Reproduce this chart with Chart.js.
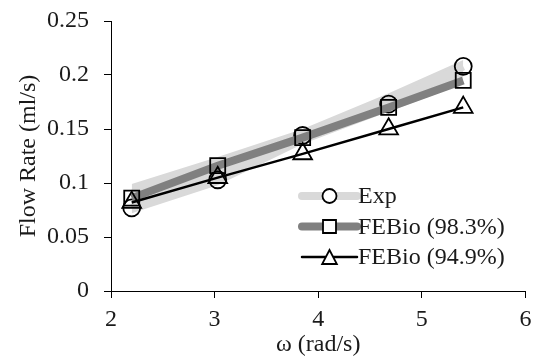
<!DOCTYPE html>
<html>
<head>
<meta charset="utf-8">
<title>Flow rate vs angular velocity</title>
<script src="https://cdn.jsdelivr.net/npm/chart.js@4/dist/chart.umd.min.js"></script>
<style>
  html, body { margin: 0; padding: 0; background: #fff; }
  #wrap { width: 538px; height: 357px; }
</style>
</head>
<body>
<div id="wrap"><canvas id="flow-chart" width="538" height="357"></canvas></div>
<script>
// Angular velocity (rad/s) and flow rates (ml/s)
const omega = [2.2, 3.03, 3.85, 4.68, 5.4];
const expFlow = [0.077, 0.103, 0.144, 0.173, 0.208];
const expUpper = [0.099, 0.124, 0.150, 0.183, 0.214];
const expLower = [0.072, 0.098, 0.136, 0.166, 0.192];
const febio983 = [0.086, 0.116, 0.142, 0.170, 0.195];
const febio949 = [0.082, 0.105, 0.127, 0.150, 0.170];

const seriesLabels = ['Exp', 'FEBio (98.3%)', 'FEBio (94.9%)'];
const yTickStep = 0.05;

const FONT = "'Liberation Serif', 'Times New Roman', serif";
const TEXT = '#1a1a1a';
const LIGHT = '#d9d9d9';
const DARK = '#808080';

const pts = (ys) => omega.map((x, i) => ({ x, y: ys[i] }));

// keep tick label overflow from pushing the plot area around
const noOverflow = (scale) => {
  scale.paddingTop = 0;
  scale.paddingBottom = 0;
  scale.paddingLeft = 0;
  scale.paddingRight = 0;
};

// Line + marker legend, drawn on the canvas
const lineLegend = {
  id: 'lineLegend',
  afterDraw(chart, args, opts) {
    const ctx = chart.ctx;
    ctx.save();
    ctx.font = `${opts.fontSize}px ${FONT}`;
    ctx.textBaseline = 'middle';
    ctx.textAlign = 'left';
    let y = opts.y;
    chart.data.datasets.filter((d) => d.legendRadius).forEach((d) => {
      // line segment
      ctx.strokeStyle = d.borderColor;
      ctx.lineWidth = d.borderWidth;
      ctx.lineCap = 'round';
      ctx.beginPath();
      ctx.moveTo(opts.x, y);
      ctx.lineTo(opts.x + opts.lineLength, y);
      ctx.stroke();
      // marker
      const cx = opts.x + opts.lineLength / 2;
      const r = d.legendRadius;
      ctx.lineWidth = 1.8;
      ctx.strokeStyle = '#000';
      ctx.fillStyle = '#fff';
      ctx.beginPath();
      if (d.pointStyle === 'circle') {
        ctx.arc(cx, y, r, 0, Math.PI * 2);
      } else if (d.pointStyle === 'rect') {
        ctx.rect(cx - r, y - r, 2 * r, 2 * r);
      } else {
        ctx.moveTo(cx, y - r);
        ctx.lineTo(cx + r * 1.05, y + r);
        ctx.lineTo(cx - r * 1.05, y + r);
        ctx.closePath();
      }
      ctx.fill();
      ctx.stroke();
      // label
      ctx.fillStyle = TEXT;
      ctx.fillText(d.label, opts.x + opts.lineLength + 1, y + 1);
      y += opts.rowHeight;
    });
    ctx.restore();
  }
};

new Chart(document.getElementById('flow-chart').getContext('2d'), {
  type: 'scatter',
  data: {
    datasets: [
      {
        label: 'Exp band upper',
        data: pts(expUpper),
        showLine: true,
        borderWidth: 0,
        pointRadius: 0,
        backgroundColor: LIGHT,
        fill: '+1',
        order: 5,
      },
      {
        label: 'Exp band lower',
        data: pts(expLower),
        showLine: true,
        borderWidth: 0,
        pointRadius: 0,
        fill: false,
        order: 5,
      },
      {
        label: seriesLabels[0],
        data: pts(expFlow),
        showLine: true,
        borderColor: LIGHT,
        borderWidth: 8,
        pointStyle: 'circle',
        pointRadius: 8.5,
        pointBorderWidth: 1.8,
        pointBorderColor: '#000',
        pointBackgroundColor: 'rgba(0,0,0,0)',
        legendRadius: 7,
        order: 3,
      },
      {
        label: seriesLabels[1],
        data: pts(febio983),
        showLine: true,
        borderColor: DARK,
        borderWidth: 8,
        pointStyle: 'rect',
        pointRadius: 10.6,
        pointBorderWidth: 1.8,
        pointBorderColor: '#000',
        pointBackgroundColor: 'rgba(0,0,0,0)',
        legendRadius: 6.5,
        order: 2,
      },
      {
        label: seriesLabels[2],
        data: pts(febio949),
        showLine: true,
        borderColor: '#000',
        borderWidth: 2.5,
        pointStyle: 'triangle',
        pointRadius: 10.8,
        pointBorderWidth: 1.8,
        pointBorderColor: '#000',
        pointBackgroundColor: 'rgba(0,0,0,0)',
        legendRadius: 7,
        order: 1,
      },
    ],
  },
  options: {
    responsive: false,
    animation: false,
    layout: { padding: { left: 0, right: 11, top: 21, bottom: 0 } },
    plugins: {
      legend: { display: false },
      tooltip: { enabled: false },
      lineLegend: { x: 302, y: 196, rowHeight: 30.5, lineLength: 55, fontSize: 24 },
    },
    scales: {
      x: {
        type: 'linear',
        min: 2,
        max: 6,
        ticks: { stepSize: 1, padding: 7, color: TEXT, font: { family: FONT, size: 24 } },
        grid: { drawOnChartArea: false, drawTicks: true, tickLength: 7, color: '#000' },
        border: { color: '#000', width: 1 },
        title: {
          display: true,
          text: 'ω (rad/s)',
          color: TEXT,
          font: { family: FONT, size: 24, lineHeight: 1 },
          padding: { top: 0, bottom: 0 },
        },
        afterFit(scale) { scale.height = 66; noOverflow(scale); },
      },
      y: {
        min: 0,
        max: 0.25,
        ticks: {
          stepSize: yTickStep,
          padding: 15,
          color: TEXT,
          font: { family: FONT, size: 24 },
          callback: (v) => String(+v.toFixed(2)),
        },
        grid: { drawOnChartArea: false, drawTicks: true, tickLength: 7, color: '#000' },
        border: { color: '#000', width: 1 },
        title: {
          display: true,
          text: 'Flow Rate (ml/s)',
          color: TEXT,
          font: { family: FONT, size: 24, lineHeight: 1.2 },
          padding: { top: 14, bottom: 0 },
        },
        afterFit(scale) { scale.width = 111; noOverflow(scale); },
      },
    },
  },
  plugins: [lineLegend],
});
</script>
</body>
</html>
